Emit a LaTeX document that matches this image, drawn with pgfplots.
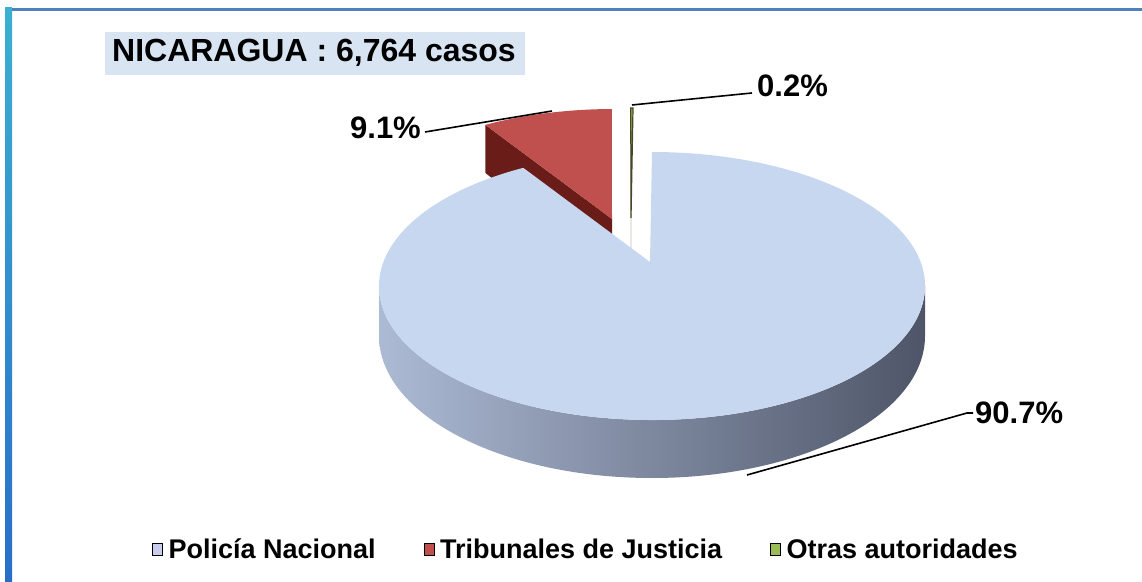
\documentclass[border=0pt]{standalone}
\usepackage{pgfplots}
\pgfplotsset{compat=1.18}
\usepackage{pgfplotstable}
\usepackage{fontspec}
\setmainfont{Liberation Sans}

\pgfplotstableread{
label value
Policia 90.7
Tribunales 9.1
Otras 0.2
}\piedata

\definecolor{polTop}{RGB}{200,215,240}
\definecolor{polLeg}{RGB}{200,205,238}
\definecolor{polSideL}{RGB}{172,186,212}
\definecolor{polSideM}{RGB}{104,112,132}
\definecolor{polSideR}{RGB}{78,85,104}
\definecolor{tribTop}{RGB}{192,80,77}
\definecolor{tribSide}{RGB}{105,28,24}
\definecolor{otrasC}{RGB}{155,187,89}
\definecolor{otrasD}{RGB}{70,72,40}
\definecolor{titleBox}{RGB}{216,228,242}
\definecolor{frameTop}{RGB}{79,129,189}

% perspective: real pie angle #2 -> parameter angle on the drawn ellipse
\newcommand{\projang}[2]{%
  \pgfmathsetmacro{\pv}{sin(#2)}%
  \pgfmathsetmacro{\pc}{cos(#2)}%
  \pgfmathsetmacro{\pd}{1+0.179*\pv}%
  \pgfmathsetmacro{#1}{atan2((134*\pv+24)/\pd/134, 268.7*\pc/\pd/273)}%
}

\begin{document}%
\begin{tikzpicture}
\pgfplotstablegetelem{0}{value}\of\piedata \let\vA\pgfplotsretval
\pgfplotstablegetelem{1}{value}\of\piedata \let\vB\pgfplotsretval
\pgfplotstablegetelem{2}{value}\of\piedata \let\vC\pgfplotsretval
% slices run clockwise from 12 o'clock; angles counterclockwise
\projang{\aS}{450-3.6*\vA}%
\projang{\aRa}{90+3.6*\vC}%
\projang{\aRb}{90+3.6*(\vB+\vC)}%
\pgfmathsetmacro{\aOa}{90}%
\projang{\aOb}{90+3.6*\vC}%
\begin{axis}[
  x=1pt, y=1pt, xmin=0, xmax=1142, ymin=0, ymax=581,
  hide axis, clip=false,
  legend columns=3,
  legend style={at={(axis cs:586,32)}, anchor=center, draw=none, fill=none,
    inner sep=0pt, font=\fontsize{27}{30}\selectfont\bfseries,
    /tikz/every odd column/.append style={column sep=4pt},
    /tikz/every even column/.append style={column sep=46pt}},
  legend cell align=left,
  legend image code/.code={\fill[#1] (0pt,-6pt) rectangle (10pt,6pt);},
]
\coordinate (LL) at (axis cs:0,0);
\coordinate (UR) at (axis cs:1142,581);
% frame
\fill[frameTop] (axis cs:6,570) rectangle (axis cs:1142,573);
\shade[top color={rgb,255:red,60;green,175;blue,210}, middle color={rgb,255:red,140;green,140;blue,228}, bottom color={rgb,255:red,40;green,110;blue,200}] (axis cs:5,0) rectangle (axis cs:12,573);

% title
\fill[titleBox] (axis cs:105,506) rectangle (axis cs:525,549);
\node[font=\fontsize{32}{36}\selectfont\bfseries, anchor=center] at (axis cs:314,528) {NICARAGUA : 6,764 casos};

% Tribunales (exploded) - radial face then top
\fill[tribSide] (axis cs:612,362) -- ({614+273*cos(\aRb)},{338+134*sin(\aRb)}) -- ++(0pt,-48pt) -- (axis cs:612,307) -- cycle;
\fill[tribTop] (axis cs:612,362) -- ({614+273*cos(\aRa)},{338+134*sin(\aRa)}) arc[start angle=\aRa, end angle=\aRb, x radius=273pt, y radius=134pt] -- cycle;

% Otras (exploded sliver)
\fill[otrasD] (axis cs:631,363) -- ({633+273*cos(\aOb)},{339+134*sin(\aOb)}) -- ++(0pt,-50pt) -- (axis cs:631,308) -- cycle;
\filldraw[fill=otrasC, draw=otrasD, line width=1.2pt] (axis cs:631,363) -- ({633+273*cos(\aOa)},{339+134*sin(\aOa)}) arc[start angle=\aOa, end angle=\aOb, x radius=273pt, y radius=134pt] -- cycle;

% Policia - side wall then top
\shade[left color=polSideL, middle color=polSideM, right color=polSideR] (axis cs:379,295) arc[start angle=180, end angle=360, x radius=273pt, y radius=134pt] -- (axis cs:925,245) arc[start angle=360, end angle=180, x radius=273pt, y radius=142pt] -- cycle;
\fill[polTop] (axis cs:650,319) -- ({652+273*cos(\aS)},{295+134*sin(\aS)}) arc[start angle=\aS, end angle=450, x radius=273pt, y radius=134pt] -- cycle;

% leader lines and labels
\draw[line width=1.6pt] (axis cs:632,476) -- (axis cs:752,488);
\node[font=\fontsize{31}{36}\selectfont\bfseries, anchor=west, inner sep=0pt] at (axis cs:757,495) {0.2\%};
\draw[line width=1.6pt] (axis cs:552,470) -- (axis cs:425,449);
\node[font=\fontsize{31}{36}\selectfont\bfseries, anchor=east, inner sep=0pt] at (axis cs:421,453) {9.1\%};
\draw[line width=1.6pt] (axis cs:747,106) -- (axis cs:967,168) -- (axis cs:973,168);
\node[font=\fontsize{31}{36}\selectfont\bfseries, anchor=west, inner sep=0pt] at (axis cs:975,168) {90.7\%};

% legend
\addlegendimage{fill=polLeg}
\addlegendentry{Policía Nacional}
\addlegendimage{fill=tribTop}
\addlegendentry{Tribunales de Justicia}
\addlegendimage{fill=otrasC}
\addlegendentry{Otras autoridades}
\end{axis}
\pgfresetboundingbox
\path[use as bounding box] (LL) rectangle (UR);
\end{tikzpicture}%
\end{document}
